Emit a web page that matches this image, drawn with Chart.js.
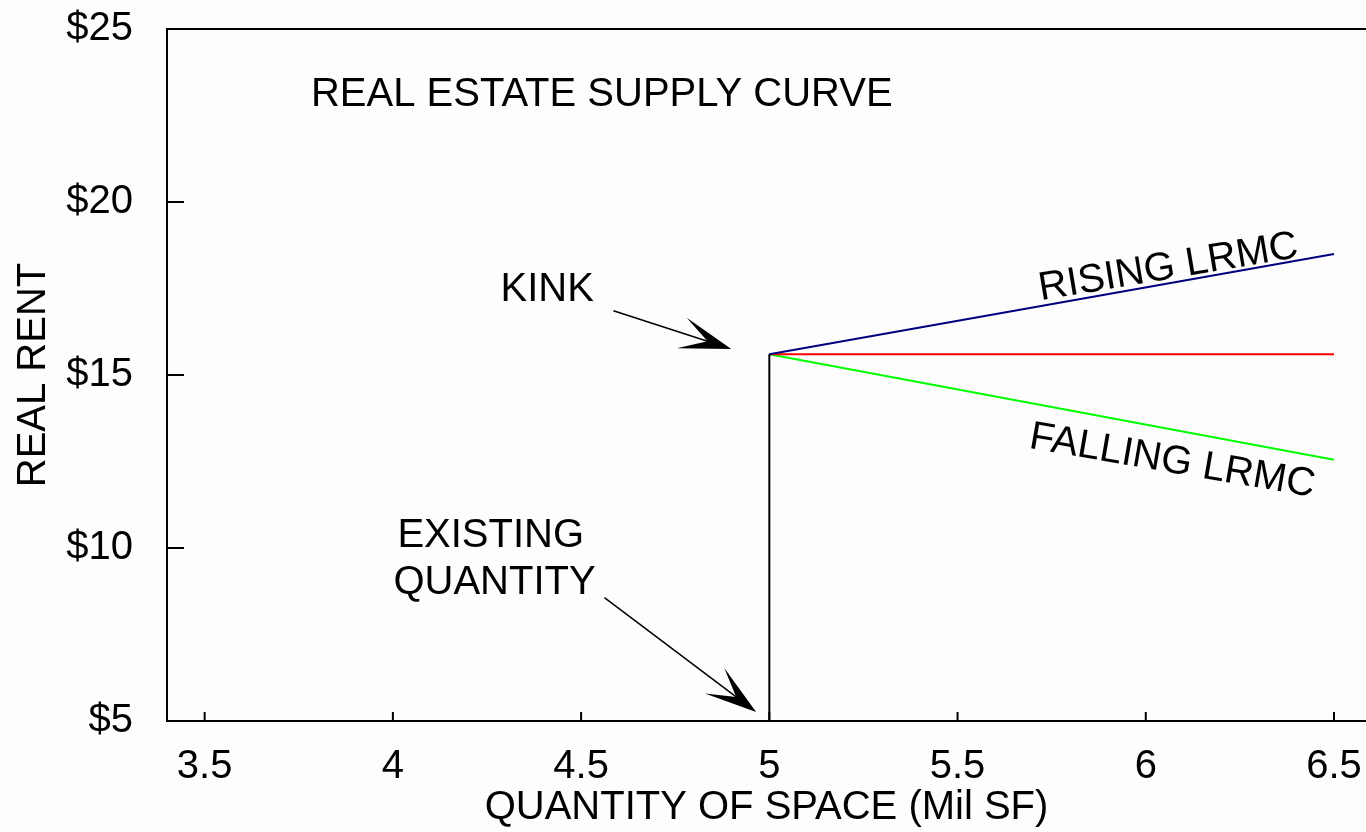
<!DOCTYPE html>
<html lang="en">
<head>
    <meta charset="UTF-8">
    <title>Real Estate Supply Curve</title>
    <script src="https://cdn.jsdelivr.net/npm/chart.js"></script>
    <style>
        body, html {
            margin: 0;
            padding: 0;
            width: 100%;
            height: 100%;
            overflow: hidden;
            background: #fdfdfd;
            font-family: "Liberation Sans", Arial, sans-serif;
        }
        #wrap { width: 1366px; height: 832px; }
    </style>
</head>
<body>
<div id="wrap"><canvas id="supplyChart"></canvas></div>
<script>
    // values
    const existingX = [5, 5];
    const existingY = [5, 15.6];
    const lrmcX = [5, 6.5];
    const risingY = [15.6, 18.5];
    const flatY = [15.6, 15.6];
    const fallingY = [15.6, 12.55];
    const xTicks = [3.5, 4, 4.5, 5, 5.5, 6, 6.5];
    const yTicks = [5, 10, 15, 20, 25];

    const FONT = '"Liberation Sans", Arial, sans-serif';
    const pts = (xs, ys) => xs.map((x, i) => ({ x: x, y: ys[i] }));

    function line(data, color) {
        return {
            data: data,
            borderColor: color,
            borderWidth: 2,
            pointRadius: 0,
            showLine: true,
            fill: false,
            tension: 0
        };
    }

    function arrow(ctx, x0, y0, x1, y1) {
        const a = Math.atan2(y1 - y0, x1 - x0);
        const len = 52, half = 16, notch = 25;
        const bx = x1 - len * Math.cos(a), by = y1 - len * Math.sin(a);
        const nx = -Math.sin(a), ny = Math.cos(a);
        ctx.beginPath();
        ctx.moveTo(x0, y0);
        ctx.lineTo(x1 - notch * Math.cos(a), y1 - notch * Math.sin(a));
        ctx.stroke();
        ctx.beginPath();
        ctx.moveTo(x1, y1);
        ctx.lineTo(bx + nx * half, by + ny * half);
        ctx.lineTo(x1 - notch * Math.cos(a), y1 - notch * Math.sin(a));
        ctx.lineTo(bx - nx * half, by - ny * half);
        ctx.closePath();
        ctx.fill();
    }

    const extras = {
        id: 'extras',
        afterDraw(chart) {
            const ctx = chart.ctx;
            const xs = chart.scales.x, ys = chart.scales.y;
            const area = chart.chartArea;
            const X = v => xs.getPixelForValue(v);
            const Y = v => ys.getPixelForValue(v);
            ctx.save();
            ctx.strokeStyle = '#000';
            ctx.fillStyle = '#000';
            ctx.lineWidth = 2;

            // top frame line
            ctx.beginPath();
            ctx.moveTo(area.left, area.top);
            ctx.lineTo(area.right, area.top);
            ctx.stroke();

            // inward tick marks
            ctx.beginPath();
            xs.ticks.forEach(t => {
                const px = X(t.value);
                ctx.moveTo(px, area.bottom);
                ctx.lineTo(px, area.bottom - 9);
            });
            ys.ticks.forEach(t => {
                const py = Y(t.value);
                ctx.moveTo(area.left, py);
                ctx.lineTo(area.left + 17, py);
            });
            ctx.stroke();

            // labels
            ctx.font = '40px ' + FONT;
            ctx.textAlign = 'center';
            ctx.textBaseline = 'middle';
            ctx.fillText('REAL ESTATE SUPPLY CURVE', X(4.555), Y(23.09));
            ctx.fillText('KINK', X(4.41), Y(17.46));
            ctx.fillText('EXISTING', X(4.26), Y(10.36));
            ctx.fillText('QUANTITY', X(4.27), Y(9.0));

            ctx.save();
            ctx.translate(X(6.06), Y(18.1));
            ctx.rotate(-9.5 * Math.PI / 180);
            ctx.fillText('RISING LRMC', 0, 0);
            ctx.restore();

            ctx.save();
            ctx.translate(X(6.07), Y(12.5));
            ctx.rotate(9.8 * Math.PI / 180);
            ctx.fillText('FALLING LRMC', 0, 0);
            ctx.restore();

            // arrows
            ctx.lineWidth = 1.5;
            arrow(ctx, X(4.586), Y(16.855), X(4.899), Y(15.754));
            arrow(ctx, X(4.562), Y(8.565), X(4.965), Y(5.26));
            ctx.restore();
        }
    };

    new Chart(document.getElementById('supplyChart'), {
        type: 'scatter',
        data: {
            datasets: [
                line(pts(existingX, existingY), '#000000'),
                line(pts(lrmcX, risingY), '#000080'),
                line(pts(lrmcX, flatY), '#ff0000'),
                line(pts(lrmcX, fallingY), '#00ff00')
            ]
        },
        options: {
            responsive: true,
            maintainAspectRatio: false,
            animation: false,
            layout: { padding: { top: 29, right: 0, bottom: 0, left: 0 } },
            plugins: { legend: { display: false }, tooltip: { enabled: false } },
            scales: {
                x: {
                    type: 'linear',
                    min: 3.4,
                    max: 6.585,
                    afterBuildTicks: s => { s.ticks = xTicks.map(v => ({ value: v })); },
                    afterFit: s => { s.height = 111; s.paddingLeft = 0; s.paddingRight = 0; },
                    grid: { display: true, drawOnChartArea: false, drawTicks: false },
                    border: { display: true, color: '#000', width: 2 },
                    ticks: {
                        padding: 22,
                        color: '#000',
                        font: { family: FONT, size: 40 },
                        maxRotation: 0,
                        callback: v => String(v)
                    },
                    title: {
                        display: true,
                        text: 'QUANTITY OF SPACE (Mil SF)',
                        color: '#000',
                        font: { family: FONT, size: 40 },
                        padding: { top: 0, bottom: 0 }
                    }
                },
                y: {
                    min: 5,
                    max: 25,
                    afterBuildTicks: s => { s.ticks = yTicks.map(v => ({ value: v })); },
                    afterFit: s => { s.width = 167; s.paddingTop = 0; s.paddingBottom = 0; },
                    grid: { display: true, drawOnChartArea: false, drawTicks: false },
                    border: { display: true, color: '#000', width: 2 },
                    ticks: {
                        padding: 34,
                        color: '#000',
                        font: { family: FONT, size: 40 },
                        callback: v => '$' + v
                    },
                    title: {
                        display: true,
                        text: 'REAL RENT',
                        color: '#000',
                        font: { family: FONT, size: 40 },
                        padding: { top: 10, bottom: 0 }
                    }
                }
            }
        },
        plugins: [extras]
    });
</script>
</body>
</html>
